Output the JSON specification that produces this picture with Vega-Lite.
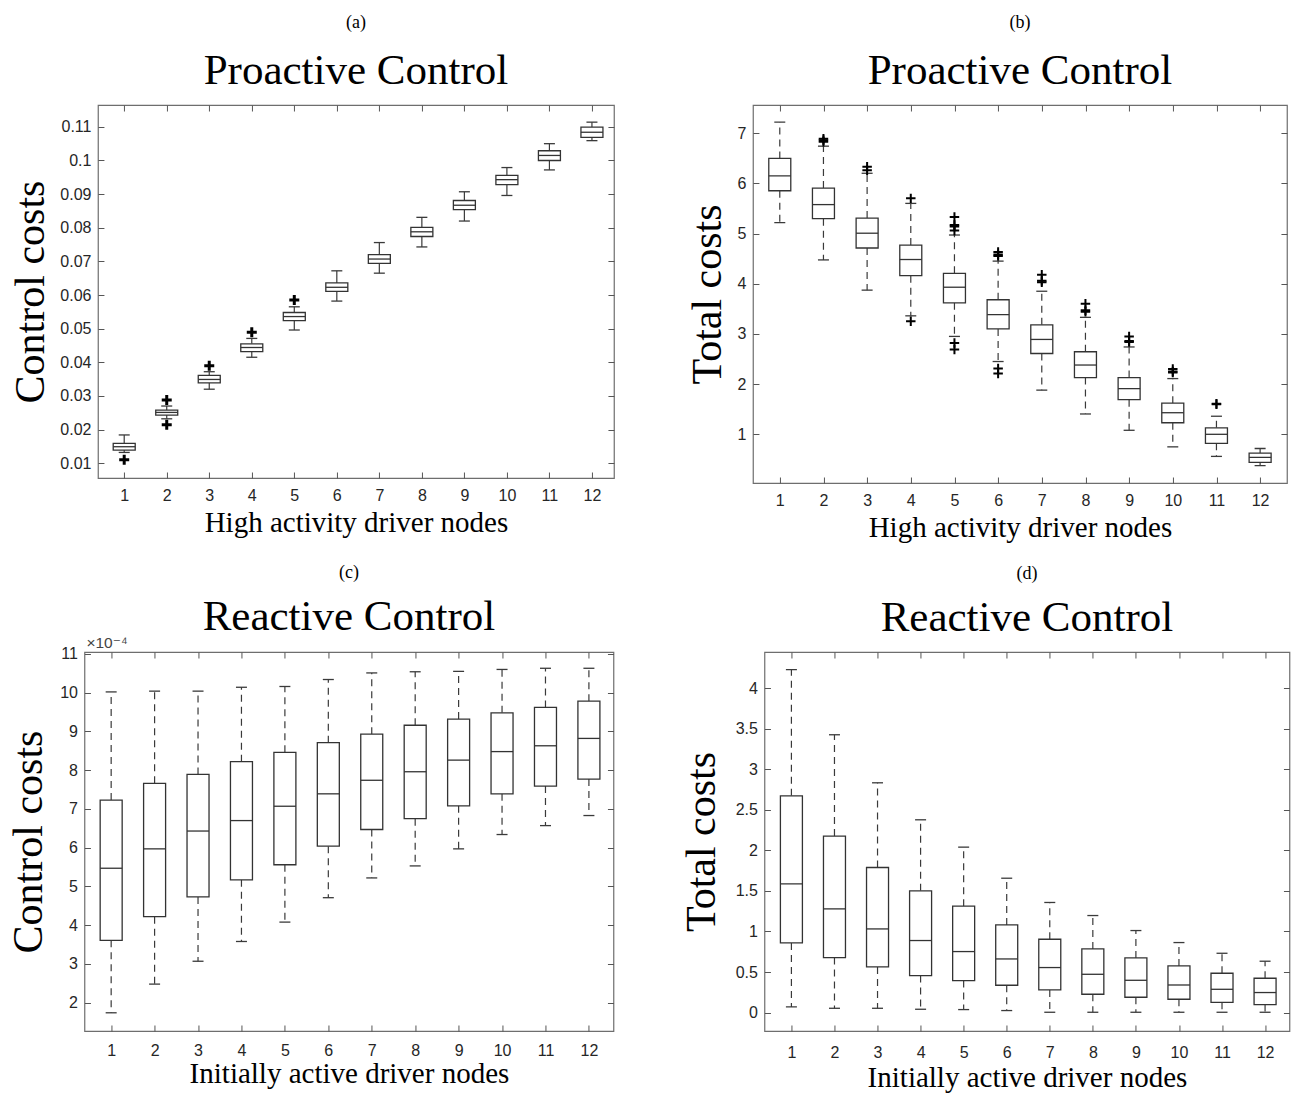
{
  "$schema": "https://vega.github.io/schema/vega-lite/v6.json",
  "padding": {"left": 7, "top": 12, "right": 0, "bottom": 0},
  "background": "white",
  "datasets": {
    "stats": [
      {"panel": "a", "n": 1, "lower": 0.0132, "q1": 0.0139, "median": 0.0149, "q3": 0.0159, "upper": 0.0184},
      {"panel": "a", "n": 2, "lower": 0.0232, "q1": 0.0243, "median": 0.0251, "q3": 0.0258, "upper": 0.0270},
      {"panel": "a", "n": 3, "lower": 0.0320, "q1": 0.0339, "median": 0.0349, "q3": 0.0361, "upper": 0.0372},
      {"panel": "a", "n": 4, "lower": 0.0415, "q1": 0.0432, "median": 0.0444, "q3": 0.0455, "upper": 0.0471},
      {"panel": "a", "n": 5, "lower": 0.0496, "q1": 0.0524, "median": 0.0536, "q3": 0.0548, "upper": 0.0565},
      {"panel": "a", "n": 6, "lower": 0.0582, "q1": 0.0611, "median": 0.0623, "q3": 0.0636, "upper": 0.0672},
      {"panel": "a", "n": 7, "lower": 0.0665, "q1": 0.0694, "median": 0.0707, "q3": 0.0720, "upper": 0.0756},
      {"panel": "a", "n": 8, "lower": 0.0743, "q1": 0.0774, "median": 0.0788, "q3": 0.0801, "upper": 0.0831},
      {"panel": "a", "n": 9, "lower": 0.0820, "q1": 0.0854, "median": 0.0867, "q3": 0.0881, "upper": 0.0907},
      {"panel": "a", "n": 10, "lower": 0.0896, "q1": 0.0928, "median": 0.0943, "q3": 0.0956, "upper": 0.0979},
      {"panel": "a", "n": 11, "lower": 0.0972, "q1": 0.1000, "median": 0.1015, "q3": 0.1029, "upper": 0.1050},
      {"panel": "a", "n": 12, "lower": 0.1059, "q1": 0.1069, "median": 0.1084, "q3": 0.1099, "upper": 0.1114},
      {"panel": "b", "n": 1, "lower": 5.216, "q1": 5.852, "median": 6.147, "q3": 6.495, "upper": 7.217},
      {"panel": "b", "n": 2, "lower": 4.474, "q1": 5.295, "median": 5.576, "q3": 5.905, "upper": 6.74},
      {"panel": "b", "n": 3, "lower": 3.872, "q1": 4.711, "median": 5.006, "q3": 5.308, "upper": 6.2},
      {"panel": "b", "n": 4, "lower": 3.36, "q1": 4.16, "median": 4.482, "q3": 4.77, "upper": 5.6},
      {"panel": "b", "n": 5, "lower": 2.95, "q1": 3.62, "median": 3.93, "q3": 4.207, "upper": 4.97},
      {"panel": "b", "n": 6, "lower": 2.45, "q1": 3.10, "median": 3.386, "q3": 3.68, "upper": 4.45},
      {"panel": "b", "n": 7, "lower": 1.88, "q1": 2.61, "median": 2.89, "q3": 3.18, "upper": 3.85},
      {"panel": "b", "n": 8, "lower": 1.405, "q1": 2.13, "median": 2.38, "q3": 2.645, "upper": 3.33},
      {"panel": "b", "n": 9, "lower": 1.08, "q1": 1.69, "median": 1.91, "q3": 2.13, "upper": 2.74},
      {"panel": "b", "n": 10, "lower": 0.75, "q1": 1.23, "median": 1.43, "q3": 1.62, "upper": 2.11},
      {"panel": "b", "n": 11, "lower": 0.56, "q1": 0.82, "median": 1.00, "q3": 1.13, "upper": 1.36},
      {"panel": "b", "n": 12, "lower": 0.376, "q1": 0.44, "median": 0.54, "q3": 0.626, "upper": 0.717},
      {"panel": "c", "n": 1, "lower": 0.000174, "q1": 0.000361, "median": 0.000547, "q3": 0.000723, "upper": 0.001002},
      {"panel": "c", "n": 2, "lower": 0.000248, "q1": 0.000422, "median": 0.000597, "q3": 0.000766, "upper": 0.001004},
      {"panel": "c", "n": 3, "lower": 0.000307, "q1": 0.000473, "median": 0.000643, "q3": 0.000789, "upper": 0.001004},
      {"panel": "c", "n": 4, "lower": 0.000358, "q1": 0.000517, "median": 0.000670, "q3": 0.000822, "upper": 0.001014},
      {"panel": "c", "n": 5, "lower": 0.000408, "q1": 0.000556, "median": 0.000707, "q3": 0.000846, "upper": 0.001016},
      {"panel": "c", "n": 6, "lower": 0.000471, "q1": 0.000604, "median": 0.000739, "q3": 0.000871, "upper": 0.001034},
      {"panel": "c", "n": 7, "lower": 0.000522, "q1": 0.000647, "median": 0.000774, "q3": 0.000893, "upper": 0.001051},
      {"panel": "c", "n": 8, "lower": 0.000553, "q1": 0.000675, "median": 0.000796, "q3": 0.000916, "upper": 0.001054},
      {"panel": "c", "n": 9, "lower": 0.000597, "q1": 0.000708, "median": 0.000826, "q3": 0.000932, "upper": 0.001055},
      {"panel": "c", "n": 10, "lower": 0.000634, "q1": 0.000739, "median": 0.000848, "q3": 0.000948, "upper": 0.001060},
      {"panel": "c", "n": 11, "lower": 0.000657, "q1": 0.000759, "median": 0.000863, "q3": 0.000962, "upper": 0.001063},
      {"panel": "c", "n": 12, "lower": 0.000683, "q1": 0.000777, "median": 0.000882, "q3": 0.000978, "upper": 0.001063},
      {"panel": "d", "n": 1, "lower": 0.07, "q1": 0.859, "median": 1.586, "q3": 2.672, "upper": 4.226},
      {"panel": "d", "n": 2, "lower": 0.053, "q1": 0.678, "median": 1.278, "q3": 2.175, "upper": 3.424},
      {"panel": "d", "n": 3, "lower": 0.053, "q1": 0.563, "median": 1.031, "q3": 1.788, "upper": 2.832},
      {"panel": "d", "n": 4, "lower": 0.041, "q1": 0.456, "median": 0.888, "q3": 1.50, "upper": 2.376},
      {"panel": "d", "n": 5, "lower": 0.037, "q1": 0.394, "median": 0.752, "q3": 1.311, "upper": 2.039},
      {"panel": "d", "n": 6, "lower": 0.025, "q1": 0.337, "median": 0.661, "q3": 1.08, "upper": 1.656},
      {"panel": "d", "n": 7, "lower": 0.004, "q1": 0.279, "median": 0.555, "q3": 0.904, "upper": 1.357},
      {"panel": "d", "n": 8, "lower": 0.004, "q1": 0.226, "median": 0.472, "q3": 0.785, "upper": 1.196},
      {"panel": "d", "n": 9, "lower": 0.004, "q1": 0.189, "median": 0.398, "q3": 0.674, "upper": 1.011},
      {"panel": "d", "n": 10, "lower": 0.004, "q1": 0.164, "median": 0.340, "q3": 0.575, "upper": 0.863},
      {"panel": "d", "n": 11, "lower": 0.004, "q1": 0.127, "median": 0.287, "q3": 0.485, "upper": 0.731},
      {"panel": "d", "n": 12, "lower": 0.004, "q1": 0.099, "median": 0.247, "q3": 0.423, "upper": 0.633}
    ],
    "outliers": [
      {"panel": "a", "n": 1, "value": 0.0110},
      {"panel": "a", "n": 2, "value": 0.0288},
      {"panel": "a", "n": 2, "value": 0.0214},
      {"panel": "a", "n": 3, "value": 0.0390},
      {"panel": "a", "n": 4, "value": 0.0489},
      {"panel": "a", "n": 5, "value": 0.0585},
      {"panel": "b", "n": 2, "value": 6.89},
      {"panel": "b", "n": 2, "value": 6.86},
      {"panel": "b", "n": 2, "value": 6.83},
      {"panel": "b", "n": 3, "value": 6.33},
      {"panel": "b", "n": 3, "value": 6.26},
      {"panel": "b", "n": 4, "value": 5.70},
      {"panel": "b", "n": 4, "value": 3.25},
      {"panel": "b", "n": 5, "value": 5.33},
      {"panel": "b", "n": 5, "value": 5.17},
      {"panel": "b", "n": 5, "value": 5.14},
      {"panel": "b", "n": 5, "value": 5.06},
      {"panel": "b", "n": 5, "value": 2.82},
      {"panel": "b", "n": 5, "value": 2.69},
      {"panel": "b", "n": 6, "value": 4.63},
      {"panel": "b", "n": 6, "value": 4.58},
      {"panel": "b", "n": 6, "value": 4.55},
      {"panel": "b", "n": 6, "value": 2.31},
      {"panel": "b", "n": 6, "value": 2.21},
      {"panel": "b", "n": 7, "value": 4.18},
      {"panel": "b", "n": 7, "value": 4.06},
      {"panel": "b", "n": 7, "value": 4.03},
      {"panel": "b", "n": 8, "value": 3.60},
      {"panel": "b", "n": 8, "value": 3.47},
      {"panel": "b", "n": 8, "value": 3.44},
      {"panel": "b", "n": 9, "value": 2.95},
      {"panel": "b", "n": 9, "value": 2.86},
      {"panel": "b", "n": 9, "value": 2.84},
      {"panel": "b", "n": 10, "value": 2.30},
      {"panel": "b", "n": 10, "value": 2.25},
      {"panel": "b", "n": 10, "value": 2.23},
      {"panel": "b", "n": 11, "value": 1.61},
      {"panel": "b", "n": 11, "value": 1.60}
    ],
    "notes": [{"label": "×10⁻⁴"}]
  },
  "vconcat": [
    {
      "hconcat": [
        {
          "width": 516, "height": 373,
          "title": {"text": "(a)", "subtitle": "Proactive Control"},
          "layer": [
            {"data": {"name": "stats"}, "transform": [{"filter": "datum.panel === 'a'"}],
             "mark": {"type": "rule", "color": "#3a3a3a", "strokeWidth": 1.2},
             "encoding": {"x": {"field": "n", "type": "quantitative", "scale": {"domain": [0.5, 12.4], "nice": false, "zero": false}, "axis": null},
                          "y": {"field": "q3", "type": "quantitative", "scale": {"domain": [0.0056, 0.1165], "nice": false, "zero": false}, "axis": null},
                          "y2": {"field": "upper"}}},
            {"data": {"name": "stats"}, "transform": [{"filter": "datum.panel === 'a'"}],
             "mark": {"type": "rule", "color": "#3a3a3a", "strokeWidth": 1.2},
             "encoding": {"x": {"field": "n", "type": "quantitative", "axis": null},
                          "y": {"field": "lower", "type": "quantitative", "axis": null},
                          "y2": {"field": "q1"}}},
            {"data": {"name": "stats"}, "transform": [{"filter": "datum.panel === 'a'"}],
             "mark": {"type": "tick", "orient": "horizontal", "size": 11, "thickness": 1.3, "color": "#3a3a3a", "opacity": 1},
             "encoding": {"x": {"field": "n", "type": "quantitative", "axis": null},
                          "y": {"field": "upper", "type": "quantitative", "axis": null}}},
            {"data": {"name": "stats"}, "transform": [{"filter": "datum.panel === 'a'"}],
             "mark": {"type": "tick", "orient": "horizontal", "size": 11, "thickness": 1.3, "color": "#3a3a3a", "opacity": 1},
             "encoding": {"x": {"field": "n", "type": "quantitative", "axis": null},
                          "y": {"field": "lower", "type": "quantitative", "axis": null}}},
            {"data": {"name": "stats"}, "transform": [{"filter": "datum.panel === 'a'"}],
             "mark": {"type": "bar", "size": 22, "fill": "white", "stroke": "#333333", "strokeWidth": 1.3},
             "encoding": {"x": {"field": "n", "type": "quantitative", "axis": {"orient": "bottom", "values": [1,2,3,4,5,6,7,8,9,10,11,12], "format": "d", "title": "High activity driver nodes"}},
                          "y": {"field": "q1", "type": "quantitative", "axis": {"orient": "left", "values": [0.01,0.02,0.03,0.04,0.05,0.06,0.07,0.08,0.09,0.1,0.11], "format": "~g", "title": "Control costs", "titlePadding": 7}},
                          "y2": {"field": "q3"}}},
            {"data": {"name": "stats"}, "transform": [{"filter": "datum.panel === 'a'"}],
             "mark": {"type": "tick", "orient": "horizontal", "size": 22, "thickness": 1.3, "color": "#333333", "opacity": 1},
             "encoding": {"x": {"field": "n", "type": "quantitative", "axis": {"orient": "top", "values": [1,2,3,4,5,6,7,8,9,10,11,12], "labels": false, "title": null}},
                          "y": {"field": "median", "type": "quantitative", "axis": {"orient": "right", "values": [0.01,0.02,0.03,0.04,0.05,0.06,0.07,0.08,0.09,0.1,0.11], "labels": false, "title": null}}}},
            {"data": {"name": "outliers"}, "transform": [{"filter": "datum.panel === 'a'"}],
             "mark": {"type": "point", "shape": "M-1,0L1,0M0,-1L0,1", "size": 100, "filled": false, "stroke": "#000000", "strokeWidth": 3, "opacity": 1},
             "encoding": {"x": {"field": "n", "type": "quantitative", "axis": null},
                          "y": {"field": "value", "type": "quantitative", "axis": null}}}
          ],
          "resolve": {"axis": {"x": "independent", "y": "independent"}}
        },
        {
          "width": 534, "height": 378,
          "title": {"text": "(b)", "subtitle": "Proactive Control"},
          "layer": [
            {"data": {"name": "stats"}, "transform": [{"filter": "datum.panel === 'b'"}],
             "mark": {"type": "rule", "color": "#3a3a3a", "strokeWidth": 1.2, "strokeDash": [7, 5]},
             "encoding": {"x": {"field": "n", "type": "quantitative", "scale": {"domain": [0.5, 12.5], "nice": false, "zero": false}, "axis": null},
                          "y": {"field": "q3", "type": "quantitative", "scale": {"domain": [0.03, 7.56], "nice": false, "zero": false}, "axis": null},
                          "y2": {"field": "upper"}}},
            {"data": {"name": "stats"}, "transform": [{"filter": "datum.panel === 'b'"}],
             "mark": {"type": "rule", "color": "#3a3a3a", "strokeWidth": 1.2, "strokeDash": [7, 5]},
             "encoding": {"x": {"field": "n", "type": "quantitative", "axis": null},
                          "y": {"field": "q1", "type": "quantitative", "axis": null},
                          "y2": {"field": "lower"}}},
            {"data": {"name": "stats"}, "transform": [{"filter": "datum.panel === 'b'"}],
             "mark": {"type": "tick", "orient": "horizontal", "size": 11, "thickness": 1.3, "color": "#3a3a3a", "opacity": 1},
             "encoding": {"x": {"field": "n", "type": "quantitative", "axis": null},
                          "y": {"field": "upper", "type": "quantitative", "axis": null}}},
            {"data": {"name": "stats"}, "transform": [{"filter": "datum.panel === 'b'"}],
             "mark": {"type": "tick", "orient": "horizontal", "size": 11, "thickness": 1.3, "color": "#3a3a3a", "opacity": 1},
             "encoding": {"x": {"field": "n", "type": "quantitative", "axis": null},
                          "y": {"field": "lower", "type": "quantitative", "axis": null}}},
            {"data": {"name": "stats"}, "transform": [{"filter": "datum.panel === 'b'"}],
             "mark": {"type": "bar", "size": 22, "fill": "white", "stroke": "#333333", "strokeWidth": 1.3},
             "encoding": {"x": {"field": "n", "type": "quantitative", "axis": {"orient": "bottom", "values": [1,2,3,4,5,6,7,8,9,10,11,12], "format": "d", "title": "High activity driver nodes"}},
                          "y": {"field": "q1", "type": "quantitative", "axis": {"orient": "left", "values": [1,2,3,4,5,6,7], "format": "~g", "title": "Total costs", "titlePadding": 8}},
                          "y2": {"field": "q3"}}},
            {"data": {"name": "stats"}, "transform": [{"filter": "datum.panel === 'b'"}],
             "mark": {"type": "tick", "orient": "horizontal", "size": 22, "thickness": 1.3, "color": "#333333", "opacity": 1},
             "encoding": {"x": {"field": "n", "type": "quantitative", "axis": {"orient": "top", "values": [1,2,3,4,5,6,7,8,9,10,11,12], "labels": false, "title": null}},
                          "y": {"field": "median", "type": "quantitative", "axis": {"orient": "right", "values": [1,2,3,4,5,6,7], "labels": false, "title": null}}}},
            {"data": {"name": "outliers"}, "transform": [{"filter": "datum.panel === 'b'"}],
             "mark": {"type": "point", "shape": "M-1,0L1,0M0,-1L0,1", "size": 90, "filled": false, "stroke": "#000000", "strokeWidth": 2, "opacity": 1},
             "encoding": {"x": {"field": "n", "type": "quantitative", "axis": null},
                          "y": {"field": "value", "type": "quantitative", "axis": null}}}
          ],
          "resolve": {"axis": {"x": "independent", "y": "independent"}}
        }
      ],
      "spacing": 69
    },
    {
      "hconcat": [
        {
          "width": 529, "height": 379,
          "title": {"text": "(c)", "subtitle": "Reactive Control", "offset": -3, "subtitlePadding": 14},
          "layer": [
            {"data": {"name": "stats"}, "transform": [{"filter": "datum.panel === 'c'"}],
             "mark": {"type": "rule", "color": "#3a3a3a", "strokeWidth": 1.2, "strokeDash": [7, 5]},
             "encoding": {"x": {"field": "n", "type": "quantitative", "scale": {"domain": [0.5, 12.45], "nice": false, "zero": false}, "axis": null},
                          "y": {"field": "q3", "type": "quantitative", "scale": {"domain": [0.000127, 0.001105], "nice": false, "zero": false}, "axis": null},
                          "y2": {"field": "upper"}}},
            {"data": {"name": "stats"}, "transform": [{"filter": "datum.panel === 'c'"}],
             "mark": {"type": "rule", "color": "#3a3a3a", "strokeWidth": 1.2, "strokeDash": [7, 5]},
             "encoding": {"x": {"field": "n", "type": "quantitative", "axis": null},
                          "y": {"field": "q1", "type": "quantitative", "axis": null},
                          "y2": {"field": "lower"}}},
            {"data": {"name": "stats"}, "transform": [{"filter": "datum.panel === 'c'"}],
             "mark": {"type": "tick", "orient": "horizontal", "size": 11, "thickness": 1.3, "color": "#3a3a3a", "opacity": 1},
             "encoding": {"x": {"field": "n", "type": "quantitative", "axis": null},
                          "y": {"field": "upper", "type": "quantitative", "axis": null}}},
            {"data": {"name": "stats"}, "transform": [{"filter": "datum.panel === 'c'"}],
             "mark": {"type": "tick", "orient": "horizontal", "size": 11, "thickness": 1.3, "color": "#3a3a3a", "opacity": 1},
             "encoding": {"x": {"field": "n", "type": "quantitative", "axis": null},
                          "y": {"field": "lower", "type": "quantitative", "axis": null}}},
            {"data": {"name": "stats"}, "transform": [{"filter": "datum.panel === 'c'"}],
             "mark": {"type": "bar", "size": 22, "fill": "white", "stroke": "#333333", "strokeWidth": 1.3},
             "encoding": {"x": {"field": "n", "type": "quantitative", "axis": {"orient": "bottom", "values": [1,2,3,4,5,6,7,8,9,10,11,12], "format": "d", "title": "Initially active driver nodes", "labelPadding": 17, "titlePadding": 1}},
                          "y": {"field": "q1", "type": "quantitative", "axis": {"orient": "left", "values": [0.0002,0.0003,0.0004,0.0005,0.0006,0.0007,0.0008,0.0009,0.001,0.0011], "labelExpr": "format(datum.value * 10000, 'd')", "title": "Control costs", "titlePadding": 9}},
                          "y2": {"field": "q3"}}},
            {"data": {"name": "stats"}, "transform": [{"filter": "datum.panel === 'c'"}],
             "mark": {"type": "tick", "orient": "horizontal", "size": 22, "thickness": 1.3, "color": "#333333", "opacity": 1},
             "encoding": {"x": {"field": "n", "type": "quantitative", "axis": {"orient": "top", "values": [1,2,3,4,5,6,7,8,9,10,11,12], "labels": false, "title": null}},
                          "y": {"field": "median", "type": "quantitative", "axis": {"orient": "right", "values": [0.0002,0.0003,0.0004,0.0005,0.0006,0.0007,0.0008,0.0009,0.001,0.0011], "labels": false, "title": null}}}},
            {"data": {"name": "notes"},
             "mark": {"type": "text", "align": "left", "baseline": "bottom", "dx": -3, "dy": -1, "font": "Liberation Sans, DejaVu Sans", "fontSize": 15.5, "color": "#444444"},
             "encoding": {"x": {"datum": 0.5, "type": "quantitative", "axis": null},
                          "y": {"datum": 0.001105, "type": "quantitative", "axis": null},
                          "text": {"field": "label"}}}
          ],
          "resolve": {"axis": {"x": "independent", "y": "independent"}}
        },
        {
          "width": 525, "height": 379,
          "title": {"text": "(d)", "subtitle": "Reactive Control", "subtitlePadding": 14},
          "layer": [
            {"data": {"name": "stats"}, "transform": [{"filter": "datum.panel === 'd'"}],
             "mark": {"type": "rule", "color": "#3a3a3a", "strokeWidth": 1.2, "strokeDash": [7, 5]},
             "encoding": {"x": {"field": "n", "type": "quantitative", "scale": {"domain": [0.49, 12.45], "nice": false, "zero": false}, "axis": null},
                          "y": {"field": "q3", "type": "quantitative", "scale": {"domain": [-0.227, 4.444], "nice": false, "zero": false}, "axis": null},
                          "y2": {"field": "upper"}}},
            {"data": {"name": "stats"}, "transform": [{"filter": "datum.panel === 'd'"}],
             "mark": {"type": "rule", "color": "#3a3a3a", "strokeWidth": 1.2, "strokeDash": [7, 5]},
             "encoding": {"x": {"field": "n", "type": "quantitative", "axis": null},
                          "y": {"field": "q1", "type": "quantitative", "axis": null},
                          "y2": {"field": "lower"}}},
            {"data": {"name": "stats"}, "transform": [{"filter": "datum.panel === 'd'"}],
             "mark": {"type": "tick", "orient": "horizontal", "size": 11, "thickness": 1.3, "color": "#3a3a3a", "opacity": 1},
             "encoding": {"x": {"field": "n", "type": "quantitative", "axis": null},
                          "y": {"field": "upper", "type": "quantitative", "axis": null}}},
            {"data": {"name": "stats"}, "transform": [{"filter": "datum.panel === 'd'"}],
             "mark": {"type": "tick", "orient": "horizontal", "size": 11, "thickness": 1.3, "color": "#3a3a3a", "opacity": 1},
             "encoding": {"x": {"field": "n", "type": "quantitative", "axis": null},
                          "y": {"field": "lower", "type": "quantitative", "axis": null}}},
            {"data": {"name": "stats"}, "transform": [{"filter": "datum.panel === 'd'"}],
             "mark": {"type": "bar", "size": 22, "fill": "white", "stroke": "#333333", "strokeWidth": 1.3},
             "encoding": {"x": {"field": "n", "type": "quantitative", "axis": {"orient": "bottom", "values": [1,2,3,4,5,6,7,8,9,10,11,12], "format": "d", "title": "Initially active driver nodes", "labelPadding": 19, "titlePadding": 3}},
                          "y": {"field": "q1", "type": "quantitative", "axis": {"orient": "left", "values": [0,0.5,1,1.5,2,2.5,3,3.5,4], "format": "~g", "title": "Total costs", "titlePadding": 12}},
                          "y2": {"field": "q3"}}},
            {"data": {"name": "stats"}, "transform": [{"filter": "datum.panel === 'd'"}],
             "mark": {"type": "tick", "orient": "horizontal", "size": 22, "thickness": 1.3, "color": "#333333", "opacity": 1},
             "encoding": {"x": {"field": "n", "type": "quantitative", "axis": {"orient": "top", "values": [1,2,3,4,5,6,7,8,9,10,11,12], "labels": false, "title": null}},
                          "y": {"field": "median", "type": "quantitative", "axis": {"orient": "right", "values": [0,0.5,1,1.5,2,2.5,3,3.5,4], "labels": false, "title": " ", "titleFontSize": 10, "titlePadding": 1}}}}
          ],
          "resolve": {"axis": {"x": "independent", "y": "independent"}}
        }
      ],
      "spacing": 64
    }
  ],
  "spacing": 20,
  "center": true,
  "config": {
    "view": {"stroke": "#6e6e6e", "strokeWidth": 1.2},
    "axis": {"domain": false, "grid": false, "tickSize": -6, "tickColor": "#555555", "tickWidth": 1,
             "labelFont": "Liberation Sans", "labelFontSize": 16, "labelColor": "#262626",
             "labelFlush": false, "labelOverlap": false,
             "titleFont": "Liberation Serif", "titleFontWeight": "normal", "titleColor": "#000000"},
    "axisX": {"labelPadding": 15, "titleFontSize": 29, "titlePadding": 5},
    "axisY": {"labelPadding": 13, "titleFontSize": 42, "titlePadding": 4},
    "title": {"font": "Liberation Serif", "fontSize": 18, "fontWeight": "normal", "color": "#000000",
              "subtitleFont": "Liberation Serif", "subtitleFontSize": 43, "subtitleColor": "#000000",
              "subtitlePadding": 18, "offset": 12, "frame": "group", "anchor": "middle"}
  }
}
